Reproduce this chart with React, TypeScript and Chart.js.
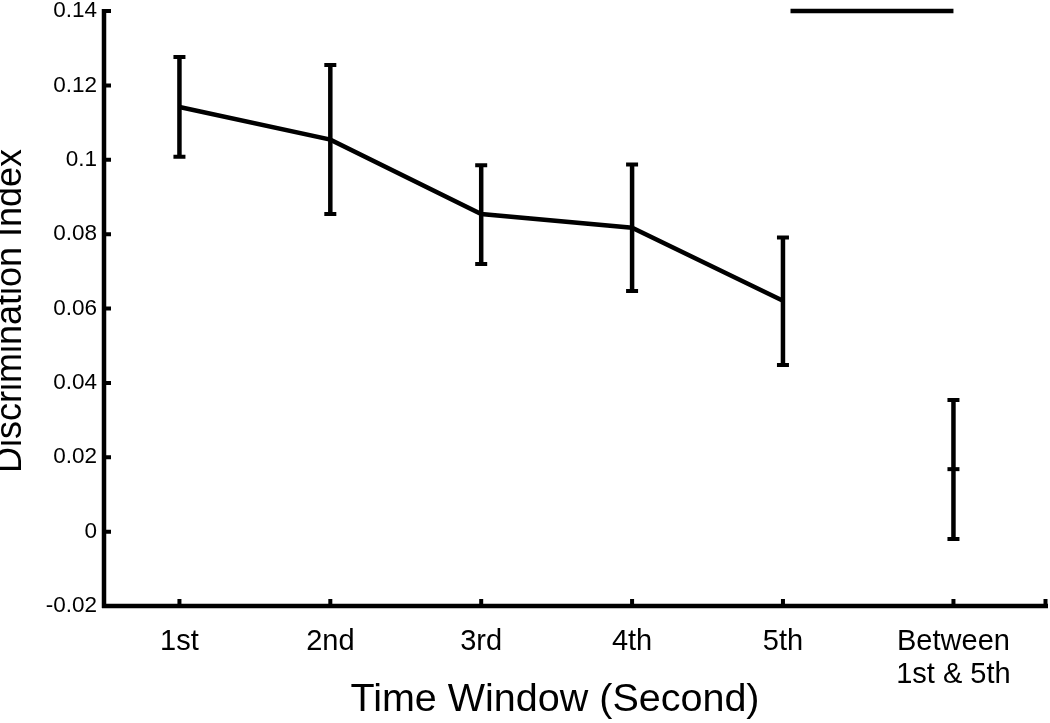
import React, { useEffect, useRef } from "react";
import { Chart, registerables } from "chart.js";

Chart.register(...registerables);

// ---- data ----
const CATEGORY_LABELS: (string | string[])[] = ["1st", "2nd", "3rd", "4th", "5th", ["Between", "1st & 5th"]];
const CATEGORY_X = [1, 2, 3, 4, 5, 6.13];
const MEANS = [0.1142, 0.1054, 0.0854, 0.0817, 0.0621, 0.0168];
const ERR_HIGH = [0.1276, 0.1255, 0.0985, 0.0987, 0.0791, 0.0354];
const ERR_LOW = [0.1008, 0.0854, 0.072, 0.0647, 0.0448, -0.002];
const SIG_BAR_X = [5.05, 6.13];
const SIG_BAR_Y = 0.14;
const Y_MIN = -0.02;
const Y_MAX = 0.14;
const Y_STEP = 0.02;
const X_MIN = 0.5;
const X_MAX = 6.75;
const X_TITLE = "Time Window (Second)";
const Y_TITLE = "Discrimination Index";

const FONT = "'Liberation Sans', Arial, Helvetica, sans-serif";

const decorPlugin = {
  id: "decor",
  afterDatasetsDraw(chart: any) {
    const ctx = chart.ctx;
    const xs = chart.scales.x;
    const ys = chart.scales.y;
    ctx.save();
    ctx.strokeStyle = "#000";
    ctx.lineCap = "butt";
    // error bars
    for (let i = 0; i < CATEGORY_X.length; i++) {
      const px = xs.getPixelForValue(CATEGORY_X[i]);
      const hi = ys.getPixelForValue(ERR_HIGH[i]);
      const lo = ys.getPixelForValue(ERR_LOW[i]);
      ctx.lineWidth = 4.5;
      ctx.beginPath();
      ctx.moveTo(px, hi);
      ctx.lineTo(px, lo);
      ctx.stroke();
      ctx.lineWidth = 4;
      ctx.beginPath();
      ctx.moveTo(px - 6, hi);
      ctx.lineTo(px + 6, hi);
      ctx.moveTo(px - 6, lo);
      ctx.lineTo(px + 6, lo);
      ctx.stroke();
    }
    ctx.restore();
  },
  afterDraw(chart: any) {
    const ctx = chart.ctx;
    const xs = chart.scales.x;
    const ys = chart.scales.y;
    const area = chart.chartArea;
    ctx.save();
    ctx.strokeStyle = "#000";
    ctx.lineCap = "butt";
    // axes lines
    ctx.lineWidth = 4.5;
    ctx.beginPath();
    ctx.moveTo(area.left, area.top - 2);
    ctx.lineTo(area.left, area.bottom + 2);
    ctx.moveTo(area.left - 2, area.bottom);
    ctx.lineTo(area.right + 1, area.bottom);
    ctx.stroke();
    // inward ticks
    ctx.lineWidth = 4;
    ctx.beginPath();
    for (let v = Y_MIN; v <= Y_MAX + 1e-9; v += Y_STEP) {
      const py = ys.getPixelForValue(v);
      ctx.moveTo(area.left, py);
      ctx.lineTo(area.left + 7, py);
    }
    const xt = [...CATEGORY_X, X_MAX];
    for (const v of xt) {
      let px = xs.getPixelForValue(v);
      if (v === X_MAX) px -= 1.5;
      ctx.moveTo(px, area.bottom);
      ctx.lineTo(px, area.bottom - 7);
    }
    ctx.stroke();
    // titles
    ctx.fillStyle = "#000";
    ctx.textAlign = "center";
    ctx.textBaseline = "alphabetic";
    ctx.font = `39.5px ${FONT}`;
    ctx.fillText(X_TITLE, 555, 711);
    ctx.translate(21, 311);
    ctx.rotate(-Math.PI / 2);
    ctx.font = `36px ${FONT}`;
    ctx.fillText(Y_TITLE, 0, 0);
    ctx.restore();
  },
};

export default function App() {
  const ref = useRef<HTMLCanvasElement | null>(null);
  useEffect(() => {
    if (!ref.current) return;
    const lineData = CATEGORY_X.slice(0, 5).map((x, i) => ({ x, y: MEANS[i] }));
    const chart = new Chart(ref.current, {
      type: "line",
      data: {
        datasets: [
          {
            label: "mean",
            data: lineData,
            borderColor: "#000",
            borderWidth: 4.5,
            pointRadius: 0,
            tension: 0,
            fill: false,
          },
          {
            label: "between",
            data: [{ x: CATEGORY_X[5], y: MEANS[5] }],
            showLine: false,
            pointStyle: "line",
            pointRadius: 6,
            pointHoverRadius: 6,
            pointBorderWidth: 4,
            pointBorderColor: "#000",
            borderColor: "#000",
          },
          {
            label: "sig",
            data: SIG_BAR_X.map((x) => ({ x, y: SIG_BAR_Y })),
            borderColor: "#000",
            borderWidth: 4.5,
            pointRadius: 0,
            clip: false as any,
          },
        ],
      },
      options: {
        responsive: false,
        animation: false,
        layout: { autoPadding: false, padding: { top: 11, right: 3, left: 0, bottom: 0 } },
        plugins: { legend: { display: false }, tooltip: { enabled: false }, title: { display: false } },
        scales: {
          x: {
            type: "linear",
            min: X_MIN,
            max: X_MAX,
            grid: { display: false, drawTicks: false },
            border: { display: false },
            afterBuildTicks: (scale: any) => {
              scale.ticks = CATEGORY_X.map((v) => ({ value: v }));
            },
            afterFit: (scale: any) => {
              scale.height = 117;
              scale.paddingLeft = 0;
              scale.paddingRight = 0;
            },
            ticks: {
              autoSkip: false,
              maxRotation: 0,
              minRotation: 0,
              padding: 19,
              color: "#000",
              font: { family: FONT, size: 29, lineHeight: 1.15 },
              callback: (_v: any, i: number) => CATEGORY_LABELS[i],
            },
          },
          y: {
            type: "linear",
            min: Y_MIN,
            max: Y_MAX,
            grid: { display: false, drawTicks: false },
            border: { display: false },
            afterFit: (scale: any) => {
              scale.width = 104;
              scale.paddingTop = 0;
              scale.paddingBottom = 0;
            },
            ticks: {
              stepSize: Y_STEP,
              padding: 7,
              color: "#000",
              font: { family: FONT, size: 22.5 },
              callback: (v: any) => String(Number(Number(v).toFixed(2))),
            },
          },
        },
      },
      plugins: [decorPlugin],
    } as any);
    return () => chart.destroy();
  }, []);
  return (
    <div style={{ position: "absolute", left: 0, top: 0, width: 1050, height: 723, background: "#fff" }}>
      <canvas ref={ref} width={1050} height={723} />
    </div>
  );
}
